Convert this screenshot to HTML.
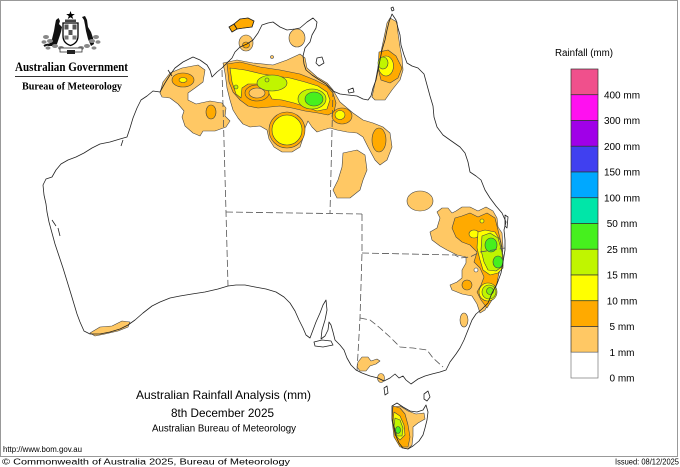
<!DOCTYPE html>
<html><head><meta charset="utf-8"><style>
html,body{margin:0;padding:0;background:#fff;}
svg{display:block;}
text{font-family:"Liberation Sans",Arial,sans-serif;fill:#000;}
.serif{font-family:"Liberation Serif","Times New Roman",serif;font-weight:bold;}
</style></head><body>
<svg width="680" height="467" viewBox="0 0 680 467" xmlns="http://www.w3.org/2000/svg">
<rect x="0" y="0" width="680" height="467" fill="#fff"/>
<rect x="0.5" y="0.5" width="677" height="456" fill="none" stroke="#999" stroke-width="1"/>

<!-- Coat of arms -->
<g>
  <polygon points="70.5,11 71.6,14 74.8,14 72.2,16 73.2,19 70.5,17.2 67.8,19 68.8,16 66.2,14 69.4,14" fill="#000"/>
  <rect x="65" y="19.5" width="11" height="2.5" fill="#444"/>
  <path d="M63,23 L78,23 L78,36 Q78,43 70.5,45.5 Q63,43 63,36 Z" fill="#fff" stroke="#000" stroke-width="1.3"/>
  <rect x="64.5" y="24.5" width="4" height="5" fill="#555"/>
  <rect x="72.5" y="24.5" width="4" height="5" fill="#555"/>
  <rect x="68.5" y="30" width="4" height="5" fill="#555"/>
  <rect x="64.5" y="35.5" width="4" height="4" fill="#777"/>
  <rect x="72.5" y="35.5" width="4" height="4" fill="#777"/>
  <path d="M48,46 L52,39 L54,31 L55,25 L56,20 L58.5,18 L60,21 L59,24 L62,27 L61,32 L59,38 L57,44 L53,46 Z" fill="#111"/>
  <path d="M44,46 Q47,44 52,45" stroke="#111" stroke-width="2" fill="none"/>
  <path d="M91,46 L88,39 L86,31 L85,25 L84,20 L82,17 L85,16 L87,20 L88,27 L91,32 L93,38 L94,44 Z" fill="#111"/>
  <g fill="#888">
    <ellipse cx="46" cy="37" rx="3" ry="2"/><ellipse cx="50" cy="41" rx="3" ry="2"/><ellipse cx="44" cy="42" rx="2.5" ry="1.8"/>
    <ellipse cx="55" cy="46" rx="3" ry="2"/><ellipse cx="61" cy="48" rx="3" ry="2"/><ellipse cx="48" cy="48" rx="2.5" ry="1.6"/>
    <ellipse cx="96" cy="37" rx="3" ry="2"/><ellipse cx="92" cy="41" rx="3" ry="2"/><ellipse cx="98" cy="42" rx="2.5" ry="1.8"/>
    <ellipse cx="87" cy="46" rx="3" ry="2"/><ellipse cx="81" cy="48" rx="3" ry="2"/><ellipse cx="94" cy="48" rx="2.5" ry="1.6"/>
  </g>
  <rect x="60" y="48" width="22" height="4" fill="#fff" stroke="#333" stroke-width="0.8"/>
  <rect x="67" y="50" width="8" height="4" fill="#222"/>
</g>
<text class="serif" x="15" y="71" font-size="12.5" textLength="113" lengthAdjust="spacingAndGlyphs">Australian Government</text>
<line x1="15" y1="76.5" x2="128" y2="76.5" stroke="#333" stroke-width="1"/>
<text class="serif" x="22" y="89.5" font-size="10.5" textLength="100" lengthAdjust="spacingAndGlyphs">Bureau of Meteorology</text>

<!-- Rainfall blobs -->
<g stroke="#444" stroke-width="0.6" stroke-linejoin="round">
  <!-- Kimberley complex -->
  <path fill="#FFC864" d="M160,93 L163,82 L170,73 L182,68 L198,65 L205,70 L203,82 L195,88 L188,93 L188,100 L196,104 L210,101 L222,103 L226,108 L225,116 L230,121 L226,127 L215,131 L203,131 L200,136 L193,133 L185,126 L182,117 L184,111 L178,104 L170,98 L162,97 Z"/>
  <ellipse cx="183" cy="80" rx="11" ry="7" fill="#FFAA00"/>
  <ellipse cx="183" cy="80" rx="4" ry="2.5" fill="#FFFF00"/>
  <ellipse cx="211" cy="112" rx="5" ry="7" fill="#FFAA00"/>

  <!-- NT band light -->
  <path fill="#FFC864" d="M223,63 L237,60 L253,63 L273,65 L287,60 L300,54 L305,58 L307,68 L317,77 L327,83 L333,90 L340,102 L353,113 L363,120 L373,123 L383,127 L390,133 L392,147 L387,160 L380,165 L375,160 L368,147 L363,137 L357,133 L347,132 L337,130 L330,128 L323,130 L317,132 L312,127 L308,121 L305,128 L303,138 L300,147 L292,152 L282,152 L274,147 L269,139 L267,130 L260,126 L250,127 L243,124 L238,118 L233,110 L230,100 L227,88 L225,73 Z"/>
  <!-- NT dark orange -->
  <path fill="#FFAA00" d="M227,64 L240,62 L260,67 L280,70 L300,74 L315,80 L327,86 L333,93 L336,103 L334,112 L328,115 L318,113 L305,111 L292,108 L280,106 L270,107 L258,108 L248,106 L240,100 L233,92 L229,82 Z"/>
  <!-- NT yellow -->
  <path fill="#FFFF00" d="M230,68 L245,70 L262,74 L275,76 L290,78 L305,82 L318,86 L327,92 L330,100 L327,109 L317,111 L306,107 L294,103 L282,100 L272,99 L267,90 L258,84 L248,84 L242,88 L241,98 L236,94 L232,82 Z"/>
  <ellipse cx="257" cy="93" rx="12" ry="8" fill="#FFAA00"/>
  <ellipse cx="257" cy="93" rx="8" ry="5" fill="#FFC864"/>
  <ellipse cx="272" cy="83" rx="15" ry="8" fill="#C0F500"/>
  <circle cx="267" cy="80" r="2" fill="#C0F500"/>
  <circle cx="236" cy="87" r="2" fill="#C0F500"/>
  <ellipse cx="312" cy="99" rx="14" ry="10" fill="#C0F500"/>
  <ellipse cx="314" cy="99" rx="9" ry="7" fill="#46F01E"/>
  <ellipse cx="342" cy="116" rx="10" ry="8" fill="#FFAA00"/>
  <ellipse cx="340" cy="115" rx="5" ry="4.5" fill="#FFFF00"/>
  <ellipse cx="379" cy="140" rx="7" ry="12" fill="#FFAA00"/>
  <!-- yellow circle -->
  <circle cx="287" cy="130" r="18" fill="#FFAA00"/>
  <circle cx="287" cy="130" r="15" fill="#FFFF00"/>

  <!-- QLD inland blob -->
  <path fill="#FFC864" d="M343,153 L357,150 L365,155 L367,170 L363,180 L360,190 L350,198 L337,198 L333,190 L338,180 L342,167 Z"/>
  <!-- Top end small blobs -->
  <ellipse cx="297" cy="38" rx="8" ry="9" fill="#FFC864"/>
  <ellipse cx="246" cy="43" rx="7" ry="8" fill="#FFC864"/>
  <ellipse cx="246" cy="45" rx="3.5" ry="3" fill="#FFAA00"/>
  <circle cx="272" cy="57" r="1.5" fill="#FFC864"/>
  <path fill="#FFAA00" d="M234,24 L240,19 L248,18 L254,21 L252,27 L244,28 L237,29 Z"/>
  <path fill="#FFAA00" d="M229,27 L234,24 L237,29 L232,32 Z"/>

  <!-- Cape York -->
  <path fill="#FFC864" d="M390,18 L397,22 L398,33 L400,47 L402,58 L403,70 L400,80 L392,90 L385,100 L375,100 L372,97 L375,83 L378,67 L382,47 L385,33 L387,23 Z"/>
  <path fill="#FFAA00" d="M379,52 L388,50 L396,56 L402,68 L398,78 L390,83 L381,80 L378,68 Z"/>
  <ellipse cx="386" cy="66" rx="7.5" ry="10" fill="#FFFF00"/>
  <ellipse cx="383" cy="63" rx="5" ry="6" fill="#C0F500"/>

  <!-- central QLD blob -->
  <ellipse cx="420" cy="201" rx="13" ry="10" fill="#FFC864"/>

  <!-- SE QLD / NSW -->
  <path fill="#FFC864" d="M432,240 L430,232 L437,228 L440,218 L437,212 L442,208 L448,208 L452,213 L456,211 L462,207 L470,207 L478,211 L486,207 L493,211 L497,218 L498,227 L502,233 L503,247 L502,260 L500,270 L497,280 L494,291 L490,300 L485,310 L480,313 L477,304 L472,296 L462,294 L452,290 L450,285 L457,282 L462,278 L462,270 L466,263 L466,257 L457,255 L447,250 L440,246 Z"/>
  <path fill="#FFAA00" d="M452,228 L455,218 L462,216 L470,213 L478,217 L487,213 L495,218 L498,230 L502,247 L500,267 L497,283 L492,300 L487,308 L481,300 L477,292 L481,285 L484,277 L480,268 L474,262 L477,252 L470,245 L462,242 L456,237 Z"/>
  <ellipse cx="467" cy="285" rx="5" ry="5" fill="#FFAA00"/>
  <circle cx="476" cy="270" r="2" fill="#fff"/>
  <ellipse cx="474" cy="234" rx="5" ry="4" fill="#FFFF00"/>
  <circle cx="482" cy="221" r="2" fill="#FFFF00"/>
  <path fill="#FFFF00" d="M478,232 L485,230 L495,232 L500,240 L503,255 L503,268 L498,273 L490,275 L483,270 L480,260 L477,248 Z"/>
  <path fill="#C0F500" d="M482,236 L490,233 L498,238 L502,252 L503,266 L496,271 L488,270 L484,262 L481,250 Z"/>
  <ellipse cx="491" cy="245" rx="6" ry="7" fill="#46F01E"/>
  <ellipse cx="498" cy="262" rx="5" ry="6" fill="#46F01E"/>
  <ellipse cx="488" cy="292" rx="9" ry="9" fill="#FFFF00"/>
  <ellipse cx="489" cy="292" rx="7" ry="7" fill="#C0F500"/>
  <ellipse cx="490" cy="291" rx="3.5" ry="3.5" fill="#80F010"/>
  <ellipse cx="464" cy="320" rx="4" ry="7" fill="#FFC864"/>

  <!-- SW WA -->
  <path fill="#FFC864" d="M90,333 L100,327 L112,326 L122,321 L130,322 L128,327 L118,331 L105,334 L95,336 Z"/>
  <!-- SA/Vic -->
  <path fill="#FFC864" d="M358,362 L362,357 L368,357 L371,361 L377,359 L380,361 L376,364 L370,366 L366,371 L360,371 L357,367 Z"/>
  <ellipse cx="381" cy="378" rx="3.5" ry="4.5" fill="#FFC864"/>

  <!-- Tasmania -->
  <path fill="#FFC864" d="M393,407 L400,406 L408,411 L416,414 L424,413 L425,419 L418,423 L413,427 L413,436 L412,445 L408,449 L402,448 L397,441 L394,432 L392,420 Z"/>
  <path fill="#FFAA00" d="M393,406 L400,408 L405,414 L408,425 L410,437 L408,447 L400,447 L394,437 L392,420 Z"/>
  <path fill="#FFFF00" d="M394,412 L400,416 L404,425 L405,435 L400,440 L395,435 L393,422 Z"/>
  <path fill="#C0F500" d="M395,418 L400,420 L403,428 L402,436 L397,436 L394,426 Z"/>
  <ellipse cx="398" cy="430" rx="2.5" ry="3.5" fill="#46F01E"/>
</g>

<!-- State borders -->
<g stroke="#555" stroke-width="0.8" fill="none" stroke-dasharray="7,3">
  <path d="M222,70 L226,212 L228,286"/>
  <path d="M226,212 L362,214"/>
  <path d="M333,90 L330,213"/>
  <path d="M362,214 L362,253 L360,318 L357,371"/>
  <path d="M362,253 L455,255 L460,258 L470,257 L480,252 L493,250 L505,248"/>
  <path d="M360,318 L370,320 L380,328 L390,337 L400,347 L413,348 L427,350 L433,358 L443,367"/>
</g>

<!-- Coastline -->
<g stroke="#222" stroke-width="0.8" fill="none" stroke-linejoin="round">
<path d="M160,92 L165,83 L170,75 L175,68 L183,62 L193,57 L200,60 L207,65 L210,70 L212,77 L217,72 L222,68 L227,63 L232,58 L235,52 L240,47 L247,44 L253,40 L258,33 L262,25 L268,23 L273,22 L280,27 L287,30 L295,29 L300,28 L307,22 L313,18 L317,22 L316,28 L312,35 L310,42 L305,48 L303,56 L304,64 L306,70 L312,75 L318,79 L326,84 L333,91 L340,94 L348,95 L357,96 L363,99 L368,100 L371,96 L373,88 L376,80 L378,70 L380,60 L382,50 L385,40 L387,30 L389,22 L392,14 L396,20 L398,28 L400,35 L401,45 L404,55 L407,63 L412,66 L418,68 L424,74 L427,85 L430,96 L433,106 L434,117 L437,127 L443,135 L450,140 L460,147 L465,153 L468,162 L470,172 L476,176 L481,180 L485,190 L490,198 L496,206 L502,213 L506,222 L504,230 L505,240 L505,250 L503,262 L501,273 L497,284 L492,293 L488,303 L482,309 L476,314 L472,320 L468,330 L464,340 L460,348 L456,354 L450,362 L446,370 L440,372 L432,374 L425,376 L418,379 L411,384 L406,380 L403,376 L399,378 L395,374 L390,378 L384,381 L378,378 L370,376 L362,373 L356,370 L351,365 L347,358 L344,350 L340,345 L335,340 L333,332 L331,325 L329,322 L328,330 L325,336 L321,339 L322,330 L325,320 L327,310 L326,300 L323,305 L320,313 L316,322 L313,330 L310,338 L306,335 L303,328 L299,320 L295,311 L290,303 L284,297 L276,292 L266,289 L255,287 L245,285 L236,285 L228,286 L218,289 L205,292 L192,294 L180,296 L170,298 L160,302 L152,306 L143,313 L135,320 L128,325 L120,329 L110,332 L100,334 L90,334 L84,331 L80,322 L77,314 L74,304 L71,294 L67,281 L63,268 L59,256 L55,244 L52,233 L49,222 L47,212 L46,204 L44,195 L43,185 L46,179 L52,177 L56,170 L61,164 L68,160 L76,157 L84,153 L92,148 L100,144 L110,142 L120,139 L127,137 L130,128 L133,118 L137,108 L141,100 L147,96 L153,91 Z"/>
<path d="M314,342 L322,340 L331,341 L333,345 L323,347 L315,346 Z"/>
<path d="M392,406 L397,403 L403,407 L410,411 L417,412 L423,410 L426,405 L428,412 L427,420 L425,428 L423,435 L419,441 L413,446 L408,449 L403,448 L399,443 L396,436 L394,428 L392,418 Z"/>
<path d="M424,394 L428,391 L430,397 L427,401 L424,399 Z"/>
<path d="M384,388 L387,386 L388,393 L385,395 Z"/>
<path d="M234,24 L240,19 L248,18 L254,21 L252,27 L244,28 L237,29 Z"/>
<path d="M229,27 L234,24 L237,29 L232,32 Z"/>
<path d="M317,58 L322,57 L324,63 L319,66 L316,63 Z"/>
<path d="M348,90 L353,88 L354,92 L349,93 Z"/>
<path d="M505,215 L508,217 L507,228 L505,226 Z"/>
<path d="M391,8 L393,7 L394,10 L392,11 Z"/>
<path d="M58,228 L60,236 M52,220 L56,226"/>
<path d="M123,140 L121,146 M168,70 L172,76"/>
</g>

<!-- Legend -->
<text x="584" y="56" font-size="10" text-anchor="middle" textLength="58" lengthAdjust="spacingAndGlyphs">Rainfall (mm)</text>
<g stroke="#333" stroke-width="0.7">
  <rect x="571" y="69" width="27" height="25.75" fill="#F0508C"/>
  <rect x="571" y="94.75" width="27" height="25.75" fill="#FF10F0"/>
  <rect x="571" y="120.5" width="27" height="25.75" fill="#A000E8"/>
  <rect x="571" y="146.25" width="27" height="25.75" fill="#4040F0"/>
  <rect x="571" y="172" width="27" height="25.75" fill="#00A8FF"/>
  <rect x="571" y="197.75" width="27" height="25.75" fill="#00E6A8"/>
  <rect x="571" y="223.5" width="27" height="25.75" fill="#46F01E"/>
  <rect x="571" y="249.25" width="27" height="25.75" fill="#C0F500"/>
  <rect x="571" y="275" width="27" height="25.75" fill="#FFFF00"/>
  <rect x="571" y="300.75" width="27" height="25.75" fill="#FFAA00"/>
  <rect x="571" y="326.5" width="27" height="25.75" fill="#FFC864"/>
  <rect x="571" y="352.25" width="27" height="25.75" fill="#FFFFFF" stroke="#777"/>
</g>
<g font-size="10" text-anchor="middle">
  <text x="622" y="98.5">400 mm</text>
  <text x="622" y="124.2">300 mm</text>
  <text x="622" y="150">200 mm</text>
  <text x="622" y="175.7">150 mm</text>
  <text x="622" y="201.5">100 mm</text>
  <text x="622" y="227.2">50 mm</text>
  <text x="622" y="253">25 mm</text>
  <text x="622" y="278.7">15 mm</text>
  <text x="622" y="304.5">10 mm</text>
  <text x="622" y="330.2">5 mm</text>
  <text x="622" y="356">1 mm</text>
  <text x="622" y="381.7">0 mm</text>
</g>

<!-- Titles -->
<text x="136" y="399" font-size="12" textLength="175" lengthAdjust="spacingAndGlyphs">Australian Rainfall Analysis (mm)</text>
<text x="171" y="417" font-size="12" textLength="103" lengthAdjust="spacingAndGlyphs">8th December 2025</text>
<text x="152" y="431.5" font-size="10" textLength="144" lengthAdjust="spacingAndGlyphs">Australian Bureau of Meteorology</text>
<text x="3" y="452" font-size="8" textLength="79" lengthAdjust="spacingAndGlyphs">http://www.bom.gov.au</text>
<text x="2" y="464.5" font-size="8" textLength="288" lengthAdjust="spacingAndGlyphs">© Commonwealth of Australia 2025, Bureau of Meteorology</text>
<text x="615" y="464.5" font-size="8" textLength="64" lengthAdjust="spacingAndGlyphs">Issued: 08/12/2025</text>
</svg>
</body></html>
